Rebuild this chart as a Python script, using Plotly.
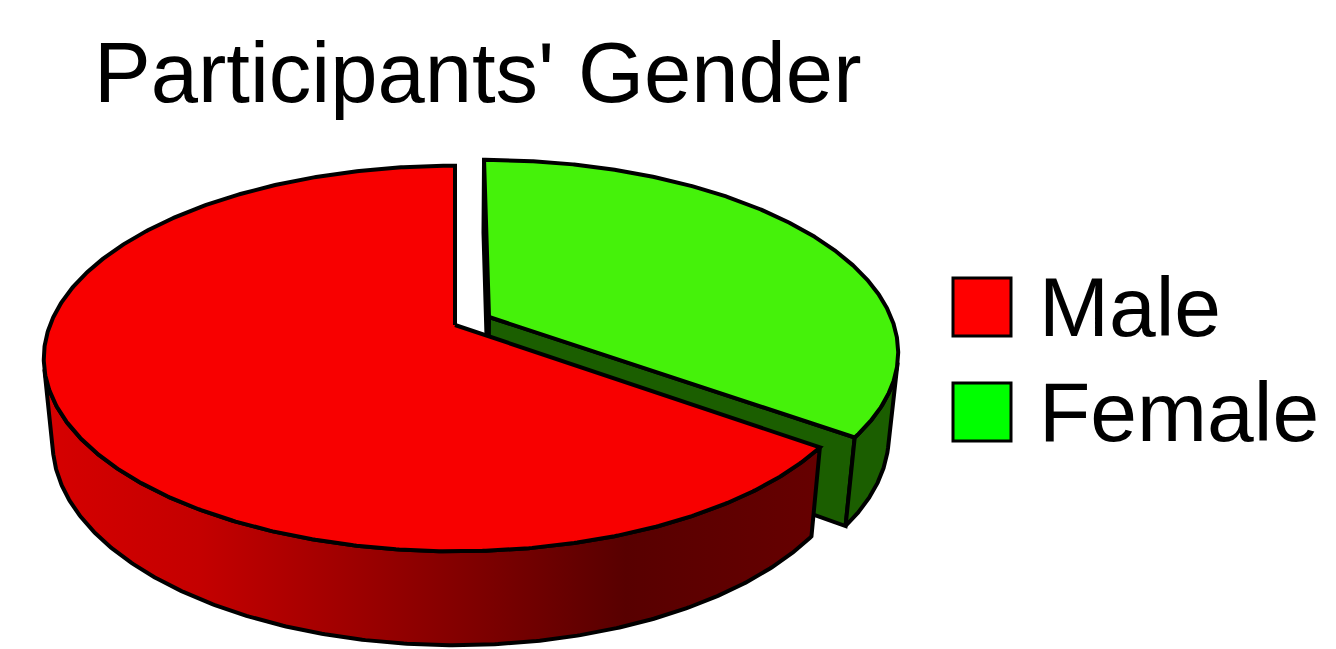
import numpy as np
import plotly.graph_objects as go

# ---------------- data ----------------
categories = ["Male", "Female"]
values = [65, 35]
top_colors = ["#F80000", "#45F20A"]
face_colors = ["#8A0000", "#1B5E00"]
legend_colors = ["#FF0000", "#00FF00"]
side_colorscales = [
    [[0, "#D60000"], [0.2, "#C40000"], [0.56, "#7E0000"], [0.75, "#580000"], [1, "#660000"]],
    [[0, "#1B5E00"], [1, "#1B5E00"]],
]
pull = [0.0, 0.095]
title_text = "Participants' Gender"

# ---------------- 3D pie geometry (layout parameters) ----------------
W, H = 1336, 649
CX, CY = 455, 325          # screen position of pie centre (top face)
S = 405                    # radius scale in px
PHI = np.radians(27.5)     # elevation of the view
DIST = 5.11                # camera distance (in radii)
DEPTH = 0.235              # pie thickness (in radii)
sphi, cphi = np.sin(PHI), np.cos(PHI)
CAM = np.array([0.0, DIST * sphi, DIST * cphi])
FONT = "Liberation Sans, Arial, sans-serif"


def proj(X, Y, Z):
    X = np.asarray(X, float)
    Y = np.asarray(Y, float) * np.ones_like(X)
    Z = np.asarray(Z, float)
    yc = Y * cphi - Z * sphi
    d = DIST - (Z * cphi + Y * sphi)
    f = DIST / d
    return CX + S * X * f, CY - S * yc * f


total = float(sum(values))
fracs = [v / total for v in values]
# slices go clockwise; the last slice ends at 12 o'clock
start = 360.0 * fracs[-1]
slices = []
a = start
for i, fr in enumerate(fracs):
    t0, t1 = a, a + 360.0 * fr
    tm = np.radians((t0 + t1) / 2)
    ex, ez = pull[i] * np.sin(tm), -pull[i] * np.cos(tm)
    depth_mid = DIST - ((-np.cos(tm)) * cphi)
    slices.append(dict(i=i, t0=t0, t1=t1, ex=ex, ez=ez, depth=depth_mid))
    a = t1

fig = go.Figure()
LINE = dict(color="black", width=4)


def add_poly(xs, ys, **kw):
    fig.add_trace(go.Scatter(x=list(xs) + [xs[0]], y=list(ys) + [ys[0]], mode="lines",
                             fill="toself", line=LINE, hoverinfo="skip", showlegend=False, **kw))


for s in sorted(slices, key=lambda d: -d["depth"]):
    i, ex, ez = s["i"], s["ex"], s["ez"]
    t = np.radians(np.linspace(s["t0"], s["t1"], 600))
    X = np.sin(t) + ex
    Z = -np.cos(t) + ez

    # radial faces
    for tt, sign in ((np.radians(s["t0"]), -1.0), (np.radians(s["t1"]), 1.0)):
        n = sign * np.array([np.cos(tt), 0.0, np.sin(tt)])
        mid = np.array([ex + 0.5 * np.sin(tt), -DEPTH / 2, ez - 0.5 * np.cos(tt)])
        if np.dot(n, CAM - mid) > 1e-3:
            rx, rz = np.sin(tt) + ex, -np.cos(tt) + ez
            px, py = proj([ex, rx, rx, ex], [0, 0, -DEPTH, -DEPTH], [ez, rz, rz, ez])
            add_poly(px, py, fillcolor=face_colors[i])

    # outer wall (visible part only)
    vis = (-1.0 - ex * np.sin(t) - (DIST * cphi - ez) * np.cos(t)) > 0
    if vis.any():
        idx = np.where(vis)[0]
        k0, k1 = idx[0], idx[-1] + 1
        Xv, Zv = X[k0:k1], Z[k0:k1]
        tx, ty = proj(Xv, 0.0, Zv)
        bx, by = proj(Xv, -DEPTH, Zv)
        px = np.concatenate([tx, bx[::-1]])
        py = np.concatenate([ty, by[::-1]])
        add_poly(px, py, fillgradient=dict(type="horizontal", colorscale=side_colorscales[i],
                                           start=float(px.min()), stop=float(px.max())))

    # top face
    tx, ty = proj(X, 0.0, Z)
    ax_, ay_ = proj([ex], 0.0, [ez])
    add_poly(np.concatenate([ax_, tx]), np.concatenate([ay_, ty]), fillcolor=top_colors[i])

# ---------------- legend (drawn manually, large) ----------------
LEG_X0, LEG_SIZE = 953, 58
LEG_Y = [307, 412]
shapes = []
annotations = []
for i, name in enumerate(categories):
    yc = LEG_Y[i]
    shapes.append(dict(type="rect", xref="x", yref="y", x0=LEG_X0, x1=LEG_X0 + LEG_SIZE,
                       y0=yc - LEG_SIZE / 2, y1=yc + LEG_SIZE / 2,
                       fillcolor=legend_colors[i], line=dict(color="black", width=3)))
    annotations.append(dict(x=1037, y=yc, xref="x", yref="y", text=name, showarrow=False,
                            xanchor="left", yanchor="middle",
                            font=dict(family=FONT, size=84, color="black")))

annotations.append(dict(x=92, y=72, xref="x", yref="y", text=title_text, showarrow=False,
                        xanchor="left", yanchor="middle",
                        font=dict(family=FONT, size=85, color="black")))

fig.update_layout(
    width=W, height=H, margin=dict(l=0, r=0, t=0, b=0, pad=0),
    paper_bgcolor="white", plot_bgcolor="white", showlegend=False,
    xaxis=dict(range=[0, W], visible=False, fixedrange=True),
    yaxis=dict(range=[H, 0], visible=False, fixedrange=True),
    shapes=shapes, annotations=annotations,
)

fig.write_html("out.html", config={"displayModeBar": False},
               post_script="document.body.style.margin='0';document.body.style.overflow='hidden';")
